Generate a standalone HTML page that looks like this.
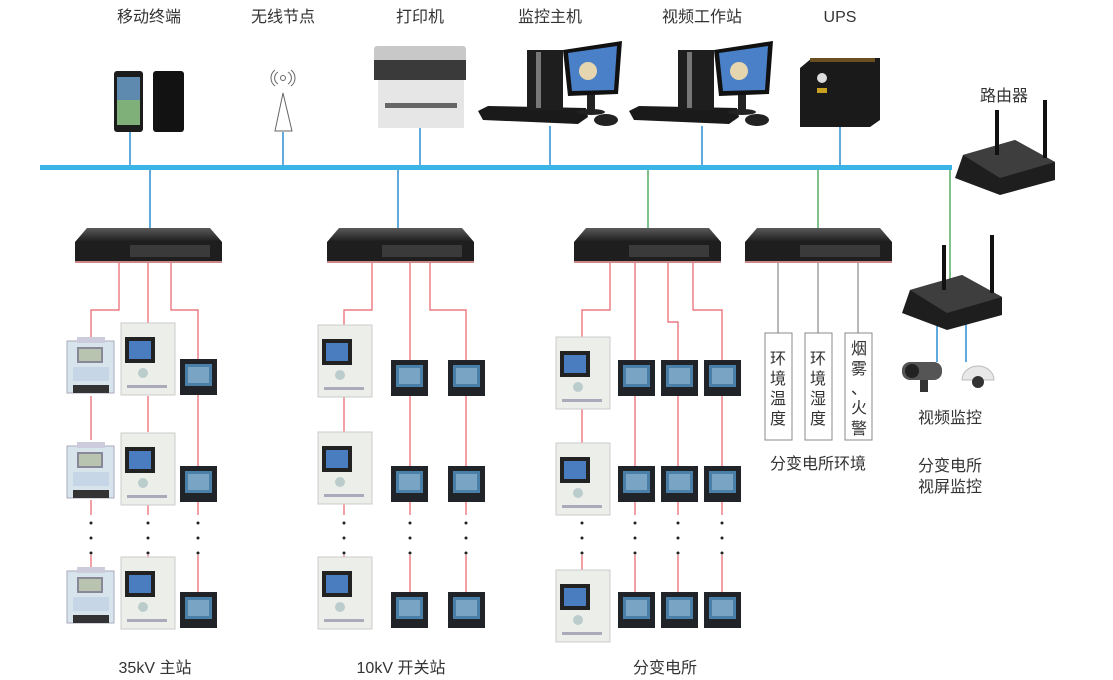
<!DOCTYPE html>
<html><head><meta charset="utf-8"><style>
html,body{margin:0;padding:0;background:#fff;}
svg{display:block;font-family:"Liberation Sans","Noto Sans CJK SC",sans-serif;}
</style></head><body>
<svg width="1113" height="680" viewBox="0 0 1113 680" xmlns="http://www.w3.org/2000/svg">
<defs>
<linearGradient id="sw" x1="0" y1="0" x2="0" y2="1"><stop offset="0" stop-color="#5a5a5a"/><stop offset="1" stop-color="#1c1c1c"/></linearGradient>
<g id="switch">
<polygon points="12,0 135,0 147,14 0,14" fill="url(#sw)"/>
<rect x="0" y="14" width="147" height="20" fill="#1e1e1e"/>
<rect x="55" y="17" width="80" height="12" fill="#3a3a3a"/>
<rect x="0" y="33" width="147" height="2" fill="#c88"/>
</g>
<g id="relay">
<rect x="0" y="0" width="54" height="72" fill="#eceeea" stroke="#ccc"/>
<rect x="4" y="14" width="30" height="26" fill="#222"/>
<rect x="8" y="18" width="22" height="18" fill="#4a7cc0"/>
<circle cx="22" cy="50" r="5" fill="#bcc"/>
<rect x="6" y="62" width="40" height="3" fill="#aab"/>
</g>
<g id="meter">
<rect x="0" y="0" width="37" height="36" fill="#202428"/>
<rect x="5" y="5" width="27" height="22" fill="#4a7fa8"/>
<rect x="8" y="8" width="21" height="16" fill="#7aa4c4"/>
</g>
<g id="emeter">
<rect x="0" y="4" width="47" height="52" fill="#d8e4ec" stroke="#aab"/>
<rect x="10" y="0" width="28" height="6" fill="#ccd"/>
<rect x="10" y="10" width="26" height="16" fill="#889"/>
<rect x="12" y="12" width="22" height="12" fill="#b9c4b0"/>
<rect x="6" y="30" width="36" height="14" fill="#c6d6e6"/>
<rect x="6" y="48" width="36" height="8" fill="#333"/>
</g>
<g id="router">
<polygon points="8,15 60,0 100,22 100,40 45,55 0,38" fill="#1e1e1e"/>
<polygon points="8,15 60,0 100,22 45,38" fill="#3e3e3e"/>
<rect x="88" y="-40" width="4" height="58" fill="#111"/>
<rect x="40" y="-30" width="4" height="45" fill="#111"/>
</g>
<g id="pc">
<polygon points="0,73 10,68 108,70 110,79 100,86 5,82" fill="#1a1a1a"/>
<rect x="49" y="12" width="36" height="60" fill="#1e1e1e"/>
<rect x="58" y="14" width="5" height="56" fill="#777"/>
<polygon points="85,12 144,3 140,56 90,58" fill="#111"/>
<polygon points="90,15 139,8 136,52 94,53" fill="#4a80c8"/>
<circle cx="110" cy="33" r="9" fill="#e6d6b0"/>
<rect x="109" y="57" width="8" height="16" fill="#222"/>
<ellipse cx="113" cy="74" rx="14" ry="3" fill="#222"/>
<ellipse cx="128" cy="82" rx="12" ry="6" fill="#222"/>
</g>
</defs>

<!-- top labels -->
<g font-size="16" fill="#333" text-anchor="middle">
<text x="149" y="22">移动终端</text>
<text x="283" y="22">无线节点</text>
<text x="420" y="22">打印机</text>
<text x="550" y="22">监控主机</text>
<text x="702" y="22">视频工作站</text>
<text x="840" y="22">UPS</text>
<text x="1004" y="101">路由器</text>
</g>

<!-- blue verticals top -->
<g stroke="#2a8fd0" stroke-width="1.5">
<line x1="130" y1="132" x2="130" y2="167"/>
<line x1="283" y1="132" x2="283" y2="167"/>
<line x1="420" y1="128" x2="420" y2="167"/>
<line x1="550" y1="126" x2="550" y2="167"/>
<line x1="702" y1="126" x2="702" y2="167"/>
<line x1="840" y1="126" x2="840" y2="167"/>
<line x1="150" y1="167" x2="150" y2="230"/>
<line x1="398" y1="167" x2="398" y2="230"/>
<line x1="937" y1="318" x2="937" y2="362"/>
<line x1="966" y1="320" x2="966" y2="362"/>
</g>
<g stroke="#3aa04a" stroke-width="1.3">
<line x1="648" y1="167" x2="648" y2="230"/>
<line x1="818" y1="167" x2="818" y2="230"/>
<line x1="950" y1="167" x2="950" y2="282"/>
</g>
<rect x="40" y="165" width="912" height="5" fill="#3ab4e6"/>

<!-- phones -->
<rect x="114" y="71" width="29" height="61" rx="3" fill="#1c1c1c"/>
<rect x="117" y="77" width="23" height="48" fill="#5e8ab0"/>
<rect x="117" y="100" width="23" height="25" fill="#7fb07a"/>
<rect x="153" y="71" width="31" height="61" rx="3" fill="#121212"/>
<!-- antenna -->
<g fill="none" stroke="#666" stroke-width="1">
<circle cx="283" cy="78" r="2.5"/>
<path d="M278,72 a7,7 0 0 0 0,12 M288,72 a7,7 0 0 1 0,12 M275,70 a10,10 0 0 0 0,16 M291,70 a10,10 0 0 1 0,16"/>
<polygon points="283,93 275,131 292,131"/>
</g>
<!-- printer -->
<rect x="374" y="46" width="92" height="16" rx="3" fill="#c8c8c8"/>
<rect x="374" y="60" width="92" height="20" fill="#3a3a3a"/>
<rect x="378" y="80" width="86" height="48" fill="#e6e6e6"/>
<rect x="385" y="103" width="72" height="5" fill="#666"/>
<!-- pcs -->
<use href="#pc" x="478" y="38"/>
<use href="#pc" x="629" y="38"/>
<!-- UPS -->
<polygon points="800,68 812,58 880,58 880,120 870,127 800,127" fill="#1a1a1a"/>
<circle cx="822" cy="78" r="5" fill="#ddd"/>
<rect x="817" y="88" width="10" height="5" fill="#c9a020"/>
<rect x="810" y="58" width="65" height="4" fill="#6a5020"/>
<!-- router top -->
<use href="#router" x="955" y="140"/>

<!-- switches -->
<use href="#switch" x="75" y="228"/>
<use href="#switch" x="327" y="228"/>
<use href="#switch" x="574" y="228"/>
<use href="#switch" x="745" y="228"/>

<!-- red lines -->
<g stroke="#e8606a" stroke-width="1.2" fill="none">
<polyline points="119,263 119,310 91,310 91,337"/>
<line x1="148" y1="263" x2="148" y2="323"/>
<polyline points="171,263 171,310 198,310 198,360"/>
<line x1="91" y1="396" x2="91" y2="440"/><line x1="148" y1="396" x2="148" y2="432"/><line x1="198" y1="393" x2="198" y2="466"/>
<line x1="91" y1="500" x2="91" y2="515"/><line x1="148" y1="505" x2="148" y2="515"/><line x1="198" y1="500" x2="198" y2="515"/>
<line x1="91" y1="555" x2="91" y2="570"/><line x1="148" y1="555" x2="148" y2="560"/><line x1="198" y1="555" x2="198" y2="592"/>

<polyline points="372,263 372,310 344,310 344,325"/>
<line x1="410" y1="263" x2="410" y2="360"/>
<polyline points="430,263 430,310 466,310 466,360"/>
<line x1="344" y1="396" x2="344" y2="432"/><line x1="410" y1="396" x2="410" y2="466"/><line x1="466" y1="396" x2="466" y2="466"/>
<line x1="344" y1="503" x2="344" y2="515"/><line x1="410" y1="502" x2="410" y2="515"/><line x1="466" y1="502" x2="466" y2="515"/>
<line x1="344" y1="555" x2="344" y2="560"/><line x1="410" y1="555" x2="410" y2="592"/><line x1="466" y1="555" x2="466" y2="592"/>

<polyline points="610,263 610,310 582,310 582,337"/>
<line x1="635" y1="263" x2="635" y2="360"/>
<polyline points="668,263 668,322 678,322 678,360"/>
<polyline points="693,263 693,310 722,310 722,360"/>
<line x1="582" y1="400" x2="582" y2="443"/><line x1="635" y1="396" x2="635" y2="466"/><line x1="678" y1="396" x2="678" y2="466"/><line x1="722" y1="396" x2="722" y2="466"/>
<line x1="582" y1="505" x2="582" y2="515"/><line x1="635" y1="502" x2="635" y2="515"/><line x1="678" y1="502" x2="678" y2="515"/><line x1="722" y1="502" x2="722" y2="515"/>
<line x1="582" y1="555" x2="582" y2="570"/><line x1="635" y1="555" x2="635" y2="592"/><line x1="678" y1="555" x2="678" y2="592"/><line x1="722" y1="555" x2="722" y2="592"/>
</g>

<!-- dots -->
<g fill="#222">
<circle cx="91" cy="523" r="1.5"/><circle cx="91" cy="538" r="1.5"/><circle cx="91" cy="553" r="1.5"/>
<circle cx="148" cy="523" r="1.5"/><circle cx="148" cy="538" r="1.5"/><circle cx="148" cy="553" r="1.5"/>
<circle cx="198" cy="523" r="1.5"/><circle cx="198" cy="538" r="1.5"/><circle cx="198" cy="553" r="1.5"/>
<circle cx="344" cy="523" r="1.5"/><circle cx="344" cy="538" r="1.5"/><circle cx="344" cy="553" r="1.5"/>
<circle cx="410" cy="523" r="1.5"/><circle cx="410" cy="538" r="1.5"/><circle cx="410" cy="553" r="1.5"/>
<circle cx="466" cy="523" r="1.5"/><circle cx="466" cy="538" r="1.5"/><circle cx="466" cy="553" r="1.5"/>
<circle cx="582" cy="523" r="1.5"/><circle cx="582" cy="538" r="1.5"/><circle cx="582" cy="553" r="1.5"/>
<circle cx="635" cy="523" r="1.5"/><circle cx="635" cy="538" r="1.5"/><circle cx="635" cy="553" r="1.5"/>
<circle cx="678" cy="523" r="1.5"/><circle cx="678" cy="538" r="1.5"/><circle cx="678" cy="553" r="1.5"/>
<circle cx="722" cy="523" r="1.5"/><circle cx="722" cy="538" r="1.5"/><circle cx="722" cy="553" r="1.5"/>
</g>

<!-- station 1 devices -->
<use href="#emeter" x="67" y="337"/><use href="#relay" x="121" y="323"/><use href="#meter" x="180" y="359"/>
<use href="#emeter" x="67" y="442"/><use href="#relay" x="121" y="433"/><use href="#meter" x="180" y="466"/>
<use href="#emeter" x="67" y="567"/><use href="#relay" x="121" y="557"/><use href="#meter" x="180" y="592"/>
<!-- station 2 -->
<use href="#relay" x="318" y="325"/><use href="#meter" x="391" y="360"/><use href="#meter" x="448" y="360"/>
<use href="#relay" x="318" y="432"/><use href="#meter" x="391" y="466"/><use href="#meter" x="448" y="466"/>
<use href="#relay" x="318" y="557"/><use href="#meter" x="391" y="592"/><use href="#meter" x="448" y="592"/>
<!-- station 3 -->
<use href="#relay" x="556" y="337"/><use href="#meter" x="618" y="360"/><use href="#meter" x="661" y="360"/><use href="#meter" x="704" y="360"/>
<use href="#relay" x="556" y="443"/><use href="#meter" x="618" y="466"/><use href="#meter" x="661" y="466"/><use href="#meter" x="704" y="466"/>
<use href="#relay" x="556" y="570"/><use href="#meter" x="618" y="592"/><use href="#meter" x="661" y="592"/><use href="#meter" x="704" y="592"/>

<!-- env -->
<g stroke="#888" stroke-width="1.2">
<line x1="778" y1="263" x2="778" y2="333"/><line x1="818" y1="263" x2="818" y2="333"/><line x1="858" y1="263" x2="858" y2="333"/>
</g>
<g fill="#fff" stroke="#888" stroke-width="1">
<rect x="765" y="333" width="27" height="107"/><rect x="805" y="333" width="27" height="107"/><rect x="845" y="333" width="27" height="107"/>
</g>
<g font-size="16" fill="#333" text-anchor="middle">
<text x="778" y="364">环</text><text x="778" y="384">境</text><text x="778" y="404">温</text><text x="778" y="424">度</text>
<text x="818" y="364">环</text><text x="818" y="384">境</text><text x="818" y="404">湿</text><text x="818" y="424">度</text>
<text x="859" y="354">烟</text><text x="859" y="374">雾</text><text x="859" y="394">、</text><text x="859" y="413">火</text><text x="859" y="434">警</text>
<text x="818" y="469">分变电所环境</text>
<text x="950" y="423">视频监控</text>
<text x="950" y="471">分变电所</text>
<text x="950" y="492">视屏监控</text>
<text x="155" y="673">35kV 主站</text>
<text x="401" y="673">10kV 开关站</text>
<text x="665" y="673">分变电所</text>
</g>
<!-- router 2 & cameras -->
<use href="#router" x="902" y="275"/>
<rect x="902" y="362" width="40" height="18" rx="8" fill="#555"/>
<circle cx="912" cy="371" r="7" fill="#222"/>
<rect x="920" y="380" width="8" height="12" fill="#333"/>
<path d="M962,380 a16,14 0 0 1 32,0 z" fill="#e8e8e8" stroke="#bbb"/>
<circle cx="978" cy="382" r="6" fill="#333"/>
</svg>
</body></html>
